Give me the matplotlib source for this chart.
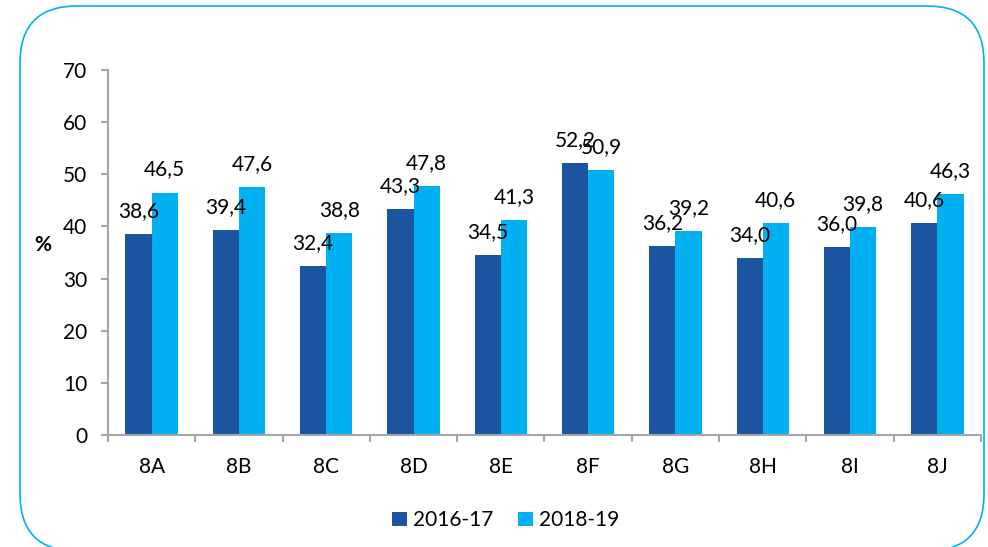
import matplotlib.pyplot as plt
import numpy as np
from matplotlib.patches import FancyBboxPatch
from matplotlib.transforms import IdentityTransform

categories = ["8A", "8B", "8C", "8D", "8E", "8F", "8G", "8H", "8I", "8J"]
vals_2016 = [38.6, 39.4, 32.4, 43.3, 34.5, 52.2, 36.2, 34.0, 36.0, 40.6]
vals_2018 = [46.5, 47.6, 38.8, 47.8, 41.3, 50.9, 39.2, 40.6, 39.8, 46.3]
series_names = ["2016-17", "2018-19"]
yticks = [0, 10, 20, 30, 40, 50, 60, 70]

DARK = "#1B55A0"
LIGHT = "#00B0F0"
AXIS = "#A6A6A6"
plt.rcParams["font.family"] = ["Lato", "DejaVu Sans"]
FS = 15

fig = plt.figure(figsize=(9.88, 5.47), dpi=100)
ax = fig.add_axes([0.1093, 0.2048, 0.8836, 0.6673])

x = np.arange(len(categories))
w = 0.3
b1 = ax.bar(x - w / 2, vals_2016, w, color=DARK, label=series_names[0])
b2 = ax.bar(x + w / 2, vals_2018, w, color=LIGHT, label=series_names[1])

for bars, vals in ((b1, vals_2016), (b2, vals_2018)):
    for r, v in zip(bars, vals):
        ax.annotate(f"{v:.1f}".replace(".", ","),
                    (r.get_x() + r.get_width() / 2, v),
                    xytext=(0, 16.5), textcoords="offset points",
                    ha="center", va="center", fontsize=FS, color="black")

ax.set_xlim(-0.5, len(categories) - 0.5)
ax.set_ylim(0, 70)
ax.set_yticks(yticks)
ax.set_xticks(x)
ax.set_xticklabels(categories)
ax.set_xticks(np.arange(len(categories) + 1) - 0.5, minor=True)
ax.tick_params(axis="x", which="major", length=0, pad=16, labelsize=FS)
ax.tick_params(axis="x", which="minor", length=5, color=AXIS, width=1.5)
ax.tick_params(axis="y", length=5, color=AXIS, width=1.5, pad=10, labelsize=FS)

for s in ("top", "right"):
    ax.spines[s].set_visible(False)
for s in ("left", "bottom"):
    ax.spines[s].set_color(AXIS)
    ax.spines[s].set_linewidth(1.5)

fig.text(0.043, 0.552, "%", fontsize=FS, fontweight="bold", ha="center", va="center")

fig.legend(loc="center", bbox_to_anchor=(0.512, 0.049), ncol=2, frameon=False,
           fontsize=FS, handlelength=0.7, handleheight=0.7, handletextpad=0.3,
           columnspacing=1.2)

box = FancyBboxPatch((20, -4), 964, 545, boxstyle="round,pad=0,rounding_size=57",
                     transform=IdentityTransform(), fill=False,
                     edgecolor=LIGHT, linewidth=1.2)
fig.add_artist(box)

fig.savefig("out.png", dpi=100)
